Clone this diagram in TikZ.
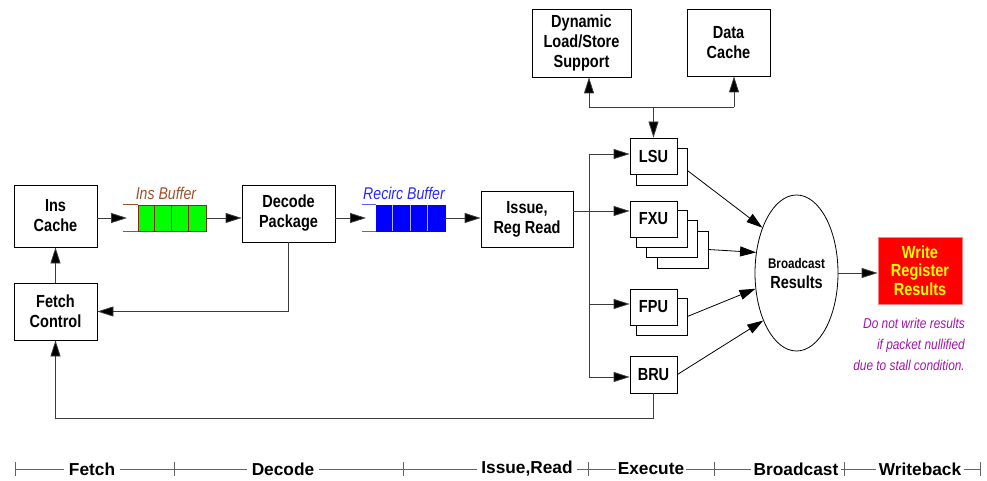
\documentclass[tikz,border=0pt]{standalone}
\usepackage{fontspec}
\setmainfont{Liberation Sans}
\newfontfamily\narrowfont{Liberation Sans}[FakeStretch=0.83]
\usetikzlibrary{arrows.meta,shapes.geometric,calc}
\definecolor{bufbrown}{RGB}{160,80,40}
\definecolor{bufdark}{RGB}{140,40,20}
\definecolor{labblue}{RGB}{40,40,255}
\definecolor{tailblue}{RGB}{90,90,255}
\definecolor{notepurple}{RGB}{160,20,170}
\definecolor{wred}{RGB}{255,0,0}
\definecolor{wborder}{RGB}{255,130,130}
\definecolor{wyellow}{RGB}{255,255,0}
\definecolor{linegray}{RGB}{60,60,60}
\newcommand\boxfont{\narrowfont\bfseries\fontsize{17.5}{20}\selectfont}
\newcommand\tlfont{\bfseries\fontsize{17.3}{20}\selectfont}
\begin{document}
\begin{tikzpicture}[x=1pt,y=-1pt,
  box/.style={draw, line width=0.8pt, fill=white, inner sep=0pt, align=center, font=\boxfont},
  backbox/.style={draw, line width=0.8pt, fill=white, inner sep=0pt, minimum width=51, minimum height=37},
  unitbox/.style={box, minimum width=47, minimum height=36},
  arr/.style={draw=linegray, line width=0.8pt, -{Triangle[length=16pt,width=10pt,fill=black]}},
  conn/.style={draw=linegray, line width=0.8pt},
  buflabel/.style={font=\narrowfont\itshape\fontsize{17}{20}\selectfont, anchor=base, inner sep=0pt},
  tllabel/.style={font=\tlfont, fill=white, inner xsep=5pt, inner ysep=1pt}]
\useasboundingbox (0,0) rectangle (987,481);

% main boxes
\node[box, minimum width=83, minimum height=62] (inscache) at (55.5,216) {Ins\\Cache};
\node[box, minimum width=83, minimum height=57] (fetch) at (55.5,311.5) {Fetch\\Control};
\node[box, minimum width=93, minimum height=57] (decode) at (288.5,213.5) {Decode\\Package};
\node[box, minimum width=92, minimum height=56] (issue) at (527,219) {Issue,\\Reg Read};
\node[box, minimum width=99, minimum height=68] (dyn) at (581.5,43) {Dynamic\\Load/Store\\Support};
\node[box, minimum width=83, minimum height=67] (dcache) at (728.5,42.5) {Data\\Cache};

% buffers
\node[draw=bufdark, fill=green, line width=0.8pt, minimum width=68, minimum height=26, inner sep=0pt] (insbuf) at (172,218) {};
\foreach \i in {1,2,3}
  \draw[bufdark, line width=0.8pt] ($(insbuf.north west)+(17*\i,0)$) -- ($(insbuf.south west)+(17*\i,0)$);
\draw[bufbrown, line width=0.8pt] (insbuf.north west) -- ++(-15,0);
\draw[bufbrown, line width=0.8pt] (insbuf.south west) -- ++(-15,0);
\node[buflabel, text=bufbrown] (inslbl) at (166,200) {Ins Buffer};

\node[draw=blue, fill=blue, line width=0.8pt, minimum width=69, minimum height=26, inner sep=0pt] (recbuf) at (410.5,218) {};
\foreach \i in {1,2,3}
  \draw[white!70!blue, line width=1pt] ($(recbuf.north west)+(17.25*\i,0.8)$) -- ($(recbuf.south west)+(17.25*\i,-0.8)$);
\draw[tailblue, line width=0.8pt] (recbuf.north west) -- ++(-14,0);
\draw[tailblue, line width=0.8pt] (recbuf.south west) -- ++(-14,0);
\node[buflabel, text=labblue] (reclbl) at (404,200) {Recirc Buffer};

% execution units
\node[backbox] (lsub) at (661.5,166.5) {};
\node[unitbox] (lsu) at (653.5,156) {LSU};

\node[backbox] (fxub3) at (682.5,249.5) {};
\node[backbox] (fxub2) at (671.5,239) {};
\node[backbox] (fxub1) at (661.5,228.5) {};
\node[unitbox] (fxu) at (653.5,219) {FXU};

\node[backbox] (fpub) at (661.5,316.5) {};
\node[unitbox] (fpu) at (653.5,307) {FPU};

\node[unitbox, minimum height=37] (bru) at (653.5,374.5) {BRU};

% broadcast ellipse
\node[ellipse, draw, line width=0.8pt, minimum width=83, minimum height=156, inner sep=0pt] (bc) at (796.5,273) {};
\node[font=\narrowfont\bfseries\fontsize{14}{16}\selectfont, anchor=base, inner sep=0pt] (bctop) at (796.5,268) {Broadcast};
\node[font=\narrowfont\bfseries\fontsize{17.5}{20}\selectfont, anchor=base, inner sep=0pt] (bcbot) at (796.5,288) {Results};

% write box
\node[draw=wborder, fill=wred, line width=0.8pt, minimum width=84, minimum height=67, inner sep=0pt, align=center,
  text=wyellow, font=\narrowfont\bfseries\fontsize{17.5}{18.5}\selectfont] (write) at (920,270.5) {Write\\Register\\Results};

\node[anchor=north east, align=right, inner sep=0pt, text=notepurple,
  font=\narrowfont\itshape\fontsize{14.3}{21}\selectfont] (note) at (965,318)
  {Do not write results\\if packet nullified~\\due to stall condition.~};

% connectors: front end
\coordinate (ibt) at (127,218);
\coordinate (rbt) at (366,218);
\draw[arr] (inscache.east |- ibt) -- (ibt);
\draw[arr] (insbuf.east) -- (insbuf.east -| decode.west);
\draw[arr] (decode.east |- rbt) -- (rbt);
\draw[arr] (recbuf.east) -- (recbuf.east -| issue.west);
\draw[arr] (decode.south) |- (fetch.east);
\draw[arr] (fetch.north) -- (inscache.south);

% fan out
\coordinate (fan) at (589,211);
\coordinate (f1) at (589,154);
\coordinate (f2) at (589,211);
\coordinate (f3) at (589,304);
\coordinate (f4) at (589,377);
\draw[conn] (issue.east |- fan) -- (fan);
\draw[conn] (f1) -- (f4);
\draw[arr] (f1) -- (f1 -| lsu.west);
\draw[arr] (f2) -- (f2 -| fxu.west);
\draw[arr] (f3) -- (f3 -| fpu.west);
\draw[arr] (f4) -- (f4 -| bru.west);

% load/store bus
\coordinate (busL) at (589,107);
\coordinate (busR) at (734,107);
\coordinate (busM) at (lsu.north |- busL);
\draw[conn] (busL) -- (busR);
\draw[arr] (busL) -- (busL |- dyn.south);
\draw[arr] (busR) -- (busR |- dcache.south);
\draw[arr] (busM) -- (lsu.north);

% to broadcast
\draw[arr, draw=black] ($(lsub.east)+(0,4)$) -- (bc.127);
\draw[arr, draw=black] (fxub3.east) -- (bc.153);
\draw[arr, draw=black] (fpub.east) -- (bc.201);
\draw[arr, draw=black] (bru.east) -- (bc.235);
\draw[arr] (bc.east) -- (bc.east -| write.west);

% branch feedback
\coordinate (lp) at (fetch.south |- 0,418);
\draw[arr] (bru.south) |- (lp) -- (fetch.south);

% timeline
\coordinate (t1) at (15,469);
\coordinate (t2) at (174,469);
\coordinate (t3) at (403,469);
\coordinate (t4) at (588,469);
\coordinate (t5) at (714,469);
\coordinate (t6) at (844,469);
\coordinate (t7) at (980,469);
\draw[conn, draw=linegray!80] (t1) -- (t7);
\foreach \t in {t1,t2,t3,t4,t5,t6,t7}
  \draw[conn, draw=linegray!80] ($(\t)+(0,-7)$) -- ($(\t)+(0,7)$);
\node[tllabel] (lfetch) at (92,469) {Fetch};
\node[tllabel] (ldecode) at (283,469) {Decode};
\node[tllabel, inner xsep=4pt] (lissue) at (527,469) {Issue,Read};
\node[tllabel, inner xsep=2pt] (lexec) at (651,469) {Execute};
\node[tllabel, inner xsep=3pt] (lbc) at (796,469) {Broadcast};
\node[tllabel, inner xsep=3pt] (lwb) at (920,469) {Writeback};
\end{tikzpicture}
\end{document}
